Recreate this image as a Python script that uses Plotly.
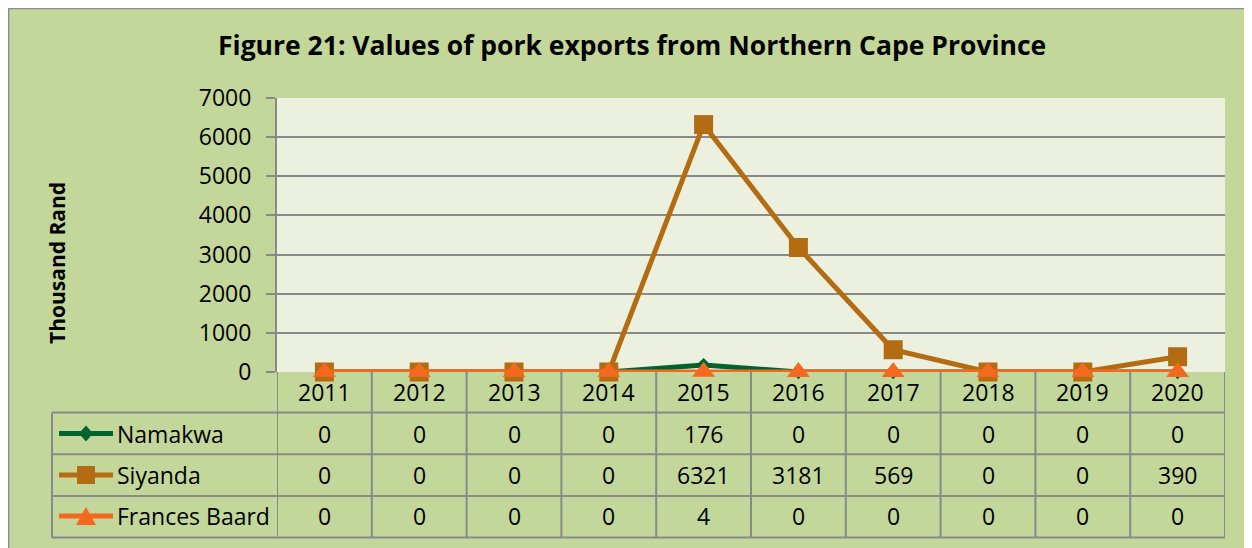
import plotly.graph_objects as go

years = ["2011", "2012", "2013", "2014", "2015", "2016", "2017", "2018", "2019", "2020"]
namakwa = [0, 0, 0, 0, 176, 0, 0, 0, 0, 0]
siyanda = [0, 0, 0, 0, 6321, 3181, 569, 0, 0, 390]
frances_baard = [0, 0, 0, 0, 4, 0, 0, 0, 0, 0]
series_names = ["Namakwa", "Siyanda", "Frances Baard"]
y_ticks = [0, 1000, 2000, 3000, 4000, 5000, 6000, 7000]

W, H = 1252, 548
OFF = 8  # page body margin in the browser
PX_L, PX_R, PX_T, PX_B = 277, 1225, 98, 372  # plot area in page pixels


def px(x):
    return (x - OFF) / W


def py(y):
    return 1 - (y - OFF) / H


BG = "#C4D79B"
PLOT_BG = "#EBF1DE"
GRID = "#898989"
FONT = "Open Sans"
colors = ["#00642E", "#B46C12", "#F4691E"]
symbols = ["diamond", "square", "triangle-up"]
msizes = [11, 19, 20]
series = [namakwa, siyanda, frances_baard]

fig = go.Figure()
for name, vals, c, s, ms in zip(series_names, series, colors, symbols, msizes):
    fig.add_trace(go.Scatter(
        x=years, y=vals, name=name, mode="lines+markers",
        line=dict(color=c, width=5),
        marker=dict(symbol=s, size=ms, color=c, line=dict(width=0)),
        showlegend=False, cliponaxis=False,
    ))

shapes = []
# outer border (top and left)
shapes.append(dict(type="line", xref="paper", yref="paper", x0=0.0005, x1=0.0005, y0=0, y1=1,
                   line=dict(color="#8C8C8C", width=1.5)))
shapes.append(dict(type="line", xref="paper", yref="paper", x0=0, x1=1, y0=0.999, y1=0.999,
                   line=dict(color="#8C8C8C", width=1.5)))
# plot area background
shapes.append(dict(type="rect", xref="paper", yref="paper", x0=px(PX_L), x1=px(PX_R), y0=py(PX_B), y1=py(PX_T),
                   fillcolor=PLOT_BG, line_width=0, layer="below"))

# data table grid
row_lines = [412.5, 454.3, 496, 537.5]
for r in row_lines:
    shapes.append(dict(type="line", xref="paper", yref="paper", x0=px(52), x1=px(PX_R), y0=py(r), y1=py(r),
                       line=dict(color=GRID, width=2), layer="below"))
shapes.append(dict(type="line", xref="paper", yref="paper", x0=px(52), x1=px(52), y0=py(412.5), y1=py(537.5),
                   line=dict(color=GRID, width=2), layer="below"))
for i in range(len(years) + 1):
    shapes.append(dict(type="line", xref="x", yref="paper", x0=i - 0.5, x1=i - 0.5, y0=py(PX_B), y1=py(537.5),
                       line=dict(color=GRID, width=2), layer="below"))

annotations = []
annotations.append(dict(text="<b>Figure 21: Values of pork exports from Northern Cape Province</b>",
                        xref="paper", yref="paper", x=px(632), y=py(45), showarrow=False,
                        font=dict(family=FONT, size=26.5, color="black"), xanchor="center", yanchor="middle"))
annotations.append(dict(text="<b>Thousand Rand</b>", xref="paper", yref="paper", x=px(57), y=py(263),
                        showarrow=False, textangle=-90, font=dict(family=FONT, size=21, color="black"),
                        xanchor="center", yanchor="middle"))
for i, yr in enumerate(years):
    annotations.append(dict(text=yr, xref="x", yref="paper", x=i, y=py(392), showarrow=False,
                            font=dict(family=FONT, size=23, color="black"), xanchor="center", yanchor="middle"))
row_centers = [433.5, 475, 516]
for name, vals, c, s, rc in zip(series_names, series, colors, symbols, row_centers):
    for i, v in enumerate(vals):
        annotations.append(dict(text=str(v), xref="x", yref="paper", x=i, y=py(rc), showarrow=False,
                                font=dict(family=FONT, size=23, color="black"), xanchor="center", yanchor="middle"))
    annotations.append(dict(text=name, xref="paper", yref="paper", x=px(115), y=py(rc), showarrow=False,
                            font=dict(family=FONT, size=23, color="black"), xanchor="left", yanchor="middle"))
    shapes.append(dict(type="line", xref="paper", yref="paper", x0=px(59), x1=px(113), y0=py(rc), y1=py(rc),
                       line=dict(color=c, width=5)))
    cx, cy = 86, rc
    if s == "diamond":
        dx, dy = 7, 8
        path = f"M {px(cx)} {py(cy-dy)} L {px(cx+dx)} {py(cy)} L {px(cx)} {py(cy+dy)} L {px(cx-dx)} {py(cy)} Z"
    elif s == "square":
        d = 9
        path = f"M {px(cx-d)} {py(cy-d)} L {px(cx+d)} {py(cy-d)} L {px(cx+d)} {py(cy+d)} L {px(cx-d)} {py(cy+d)} Z"
    else:
        d = 9
        path = f"M {px(cx)} {py(cy-d)} L {px(cx+d+1)} {py(cy+d)} L {px(cx-d-1)} {py(cy+d)} Z"
    shapes.append(dict(type="path", xref="paper", yref="paper", path=path, fillcolor=c, line=dict(color=c, width=0)))

fig.update_layout(
    width=W, height=H,
    margin=dict(l=0, r=0, t=0, b=0, pad=0, autoexpand=False),
    paper_bgcolor=BG,
    plot_bgcolor="rgba(0,0,0,0)",
    shapes=shapes,
    annotations=annotations,
    font=dict(family=FONT, color="black"),
    xaxis=dict(domain=[px(PX_L), px(PX_R)], type="category", range=[-0.5, len(years) - 0.5],
               showticklabels=False, showgrid=False, zeroline=False, showline=False, ticks="",
               automargin=False),
    yaxis=dict(domain=[py(PX_B), py(PX_T)], range=[0, 7000], tickvals=y_ticks,
               ticktext=[str(v) for v in y_ticks], automargin=False,
               showgrid=True, gridcolor=GRID, gridwidth=2, zeroline=False,
               showline=True, linecolor=GRID, linewidth=2,
               ticks="outside", ticklen=9, tickcolor=GRID, tickwidth=2,
               tickfont=dict(family=FONT, size=23, color="black"), ticklabelstandoff=10),
)
fig.write_html("out.html")
